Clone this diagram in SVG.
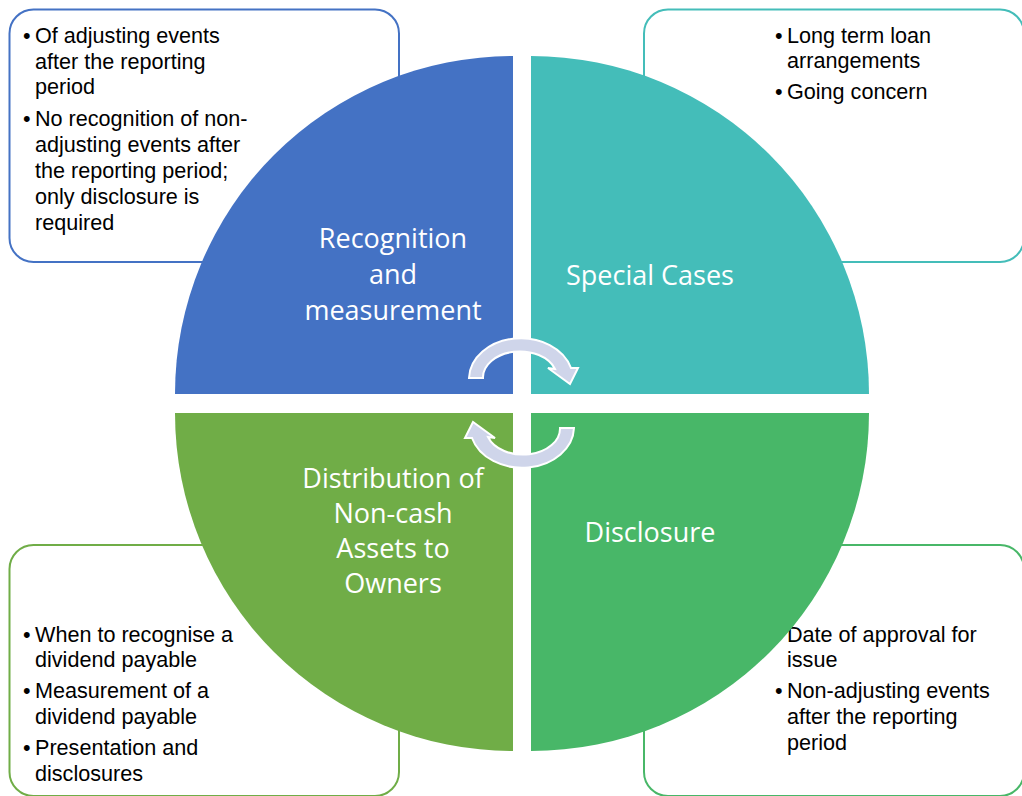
<svg xmlns="http://www.w3.org/2000/svg" width="1022" height="796" viewBox="0 0 1022 796">
<style>
.box{fill:#fff;stroke-width:2}
.t{font-family:"Liberation Sans",Arial,sans-serif;font-size:21.6px;fill:#000}
.q{font-family:"Open Sans","Liberation Sans",sans-serif;font-size:27px;fill:#fff;text-anchor:middle}
.arr{fill:#CFD5EA;stroke:#fff;stroke-width:2;stroke-linejoin:miter}
</style>
<rect width="1022" height="796" fill="#fff"/>
<g id="box-recognition">
<rect class="box" x="9.5" y="9.5" width="389.5" height="252.5" rx="24" stroke="#4472C4"/>
<text class="t"><tspan x="23" y="43">•</tspan><tspan x="35" y="43">Of adjusting events</tspan><tspan x="35" y="69">after the reporting</tspan><tspan x="35" y="94">period</tspan><tspan x="23" y="126">•</tspan><tspan x="35" y="126">No recognition of non-</tspan><tspan x="35" y="152">adjusting events after</tspan><tspan x="35" y="178">the reporting period;</tspan><tspan x="35" y="204">only disclosure is</tspan><tspan x="35" y="230">required</tspan></text>
</g>
<g id="box-special">
<rect class="box" x="644" y="9.5" width="380" height="252.5" rx="24" stroke="#44BDB9"/>
<text class="t"><tspan x="775" y="43">•</tspan><tspan x="787" y="43">Long term loan</tspan><tspan x="787" y="68">arrangements</tspan><tspan x="775" y="99">•</tspan><tspan x="787" y="99">Going concern</tspan></text>
</g>
<g id="box-distribution">
<rect class="box" x="9.5" y="545" width="389.5" height="251" rx="24" stroke="#70AD47"/>
<text class="t"><tspan x="23" y="642">•</tspan><tspan x="35" y="642">When to recognise a</tspan><tspan x="35" y="667">dividend payable</tspan><tspan x="23" y="698">•</tspan><tspan x="35" y="698">Measurement of a</tspan><tspan x="35" y="724">dividend payable</tspan><tspan x="23" y="755">•</tspan><tspan x="35" y="755">Presentation and</tspan><tspan x="35" y="781">disclosures</tspan></text>
</g>
<g id="box-disclosure">
<rect class="box" x="644" y="545" width="380" height="251" rx="24" stroke="#48B768"/>
<text class="t"><tspan x="775" y="642">•</tspan><tspan x="787" y="642">Date of approval for</tspan><tspan x="787" y="667">issue</tspan><tspan x="775" y="698">•</tspan><tspan x="787" y="698">Non-adjusting events</tspan><tspan x="787" y="724">after the reporting</tspan><tspan x="787" y="750">period</tspan></text>
</g>
<g id="node-recognition">
<path d="M513 394 L175 394 A338 338 0 0 1 513 56 Z" fill="#4472C4"/>
<text class="q"><tspan x="393" y="248">Recognition</tspan><tspan x="393" y="284">and</tspan><tspan x="393" y="320">measurement</tspan></text>
</g>
<g id="node-special">
<path d="M531 394 L531 56 A338 338 0 0 1 869 394 Z" fill="#44BDB9"/>
<text class="q" x="650" y="285">Special Cases</text>
</g>
<g id="node-disclosure">
<path d="M531 413 L869 413 A338 338 0 0 1 531 751 Z" fill="#48B768"/>
<text class="q" x="650" y="542">Disclosure</text>
</g>
<g id="node-distribution">
<path d="M513 413 L513 751 A338 338 0 0 1 175 413 Z" fill="#70AD47"/>
<text class="q"><tspan x="393" y="488">Distribution of</tspan><tspan x="393" y="523">Non-cash</tspan><tspan x="393" y="558">Assets to</tspan><tspan x="393" y="593">Owners</tspan></text>
</g>
<g id="connectors">
<defs>
<path id="carrow" d="M469 378 A52 41 0 0 1 571 368 L578 368 L570 384 L548 368 L555 369 A37 26 0 0 0 483 378 Z"/>
</defs>
<use href="#carrow" class="arr"/>
<use href="#carrow" class="arr" transform="rotate(180 521.5 403)"/>
</g>
</svg>
